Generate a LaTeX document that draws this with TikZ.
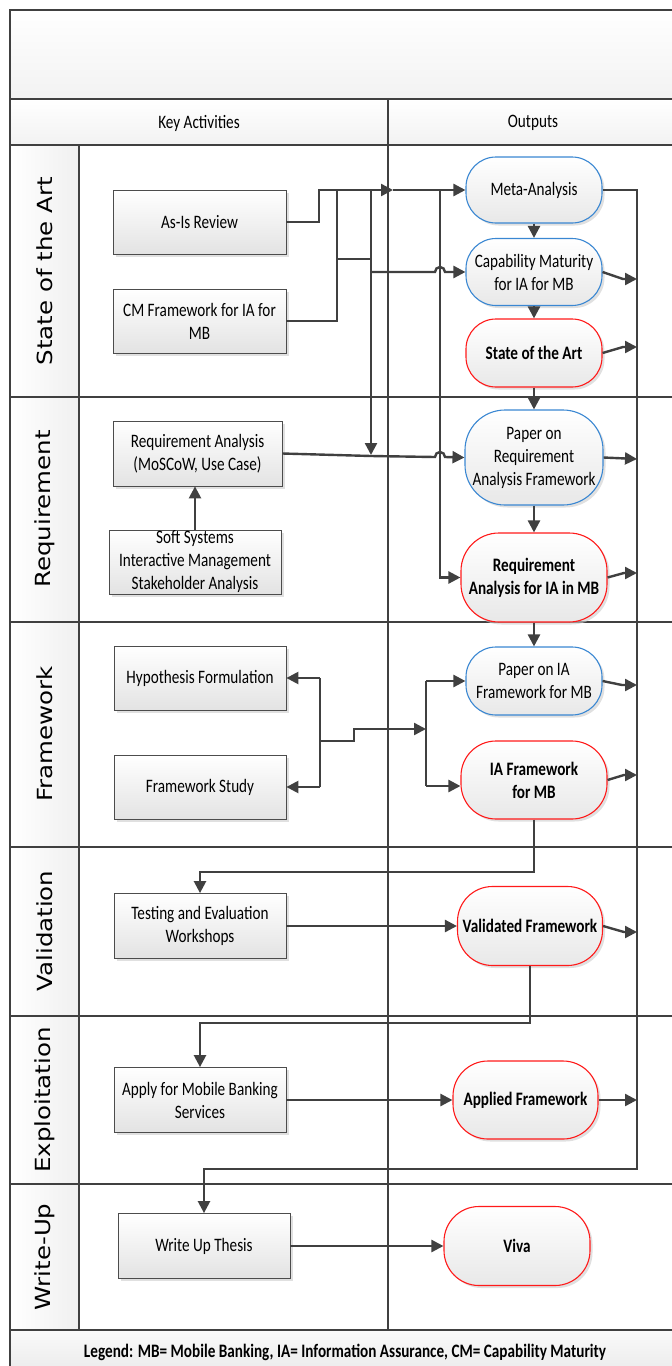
\documentclass[tikz,border=0pt]{standalone}
\usepackage{fontspec}
\setmainfont{Carlito}[FakeStretch=0.8]
\newfontfamily\lanefont{DejaVu Sans}
\usetikzlibrary{arrows.meta,shadows,calc}
\definecolor{ln}{HTML}{404040}
\definecolor{bblue}{HTML}{3A87D2}
\definecolor{rred}{HTML}{FF1A1A}
\begin{document}
\begin{tikzpicture}[x=1pt,y=-1pt,
  conn/.style={draw=ln,line width=2.4pt},
  arr/.style={conn,-{Triangle[length=12pt,width=12pt]}},
  frame/.style={draw=ln,line width=2pt},
  divline/.style={draw=ln,line width=1.2pt},
  txt/.style={font=\fontsize{19}{23}\selectfont},
  actbox/.style={txt,draw=gray!60!black,line width=0.8pt,top color=white,bottom color=gray!22,
    drop shadow={shadow xshift=2.5pt,shadow yshift=-2.5pt,fill=gray!40,opacity=0.6},
    align=center,inner sep=0pt,minimum width=172pt,minimum height=64pt},
  outbase/.style={txt,line width=1.1pt,top color=white,bottom color=gray!18,
    drop shadow={shadow xshift=2.5pt,shadow yshift=-2.5pt,fill=gray!40,opacity=0.6},
    align=center,inner sep=0pt,rounded corners=#1},
  outblue/.style={outbase=#1,draw=bblue},
  outred/.style={outbase=#1,draw=rred,font=\fontsize{19}{23}\selectfont\bfseries},
  lanelab/.style={font=\lanefont\fontsize{24.5}{28}\selectfont,rotate=90,inner sep=0pt},
  hdr/.style={txt,inner sep=0pt}
]
\useasboundingbox (0,0) rectangle (672,1366);
% backgrounds
\fill[top color=white,bottom color=gray!10] (10,10) rectangle (672,99);
\fill[top color=white,bottom color=gray!10] (10,99) rectangle (672,145);
\foreach \a/\b in {145/397,397/622,622/847,847/1016,1016/1184,1184/1330}
  \fill[left color=white,right color=gray!12] (10,\a) rectangle (79,\b);
\fill[top color=gray!4,bottom color=gray!14] (10,1330) rectangle (672,1366);
% frame
\draw[frame] (672,10) -- (10,10) -- (10,1366);
\foreach \y in {99,145,397,622,847,1016,1184,1330}
  \draw[frame] (10,\y) -- (672,\y);
\draw[divline] (79,145) -- (79,1330);
\draw[divline] (388,99) -- (388,1330);
% headers
\node[hdr] (hka) at (199,123) {Key Activities};
\node[hdr] (hout) at (533,123) {Outputs};
\node[txt,font=\fontsize{19}{22}\selectfont\bfseries,inner sep=0pt] (leg) at (345,1352)
  {Legend: MB= Mobile Banking, IA= Information Assurance, CM= Capability Maturity};
% lane labels
\node[lanelab] (l1) at (44.5,271) {\scalebox{1}[0.85]{State of the Art}};
\node[lanelab] (l2) at (44.5,509) {\scalebox{1}[0.85]{Requirement}};
\node[lanelab] (l3) at (44.5,734) {\scalebox{1}[0.85]{Framework}};
\node[lanelab] (l4) at (44.5,931) {\scalebox{1}[0.85]{Validation}};
\node[lanelab] (l5) at (44.5,1100) {\scalebox{1}[0.85]{Exploitation}};
\node[lanelab] (l6) at (44.5,1257) {\scalebox{1}[0.85]{Write-Up}};
% activity boxes
\node[actbox,minimum width=173pt] (asis) at (199.5,222) {As-Is Review};
\node[actbox,minimum width=173pt] (cmf) at (199.5,321) {CM Framework for IA for\\MB};
\node[actbox,minimum width=169pt,minimum height=65pt] (reqa) at (197.5,453.5) {Requirement Analysis\\(MoSCoW, Use Case)};
\node[actbox] (soft) at (195,562) {Soft Systems\\Interactive Management\\Stakeholder Analysis};
\node[actbox] (hyp) at (200,678) {Hypothesis Formulation};
\node[actbox] (fws) at (200,787) {Framework Study};
\node[actbox,minimum height=65pt] (test) at (200,926) {Testing and Evaluation\\Workshops};
\node[actbox,minimum height=65pt] (apply) at (200,1100) {Apply for Mobile Banking\\Services};
\node[actbox,minimum height=65pt] (writeup) at (204,1246) {Write Up Thesis};
% output nodes
\node[outblue=30pt,minimum width=136pt,minimum height=66pt] (meta) at (534,190) {Meta-Analysis};
\node[outblue=30pt,minimum width=136pt,minimum height=67pt] (capm) at (534,272) {Capability Maturity\\for IA for MB};
\node[outred=30pt,minimum width=136pt,minimum height=68pt] (soa) at (534,353) {State of the Art};
\node[outblue=40pt,minimum width=138pt,minimum height=95pt] (preq) at (534,457.5) {Paper on\\Requirement\\Analysis Framework};
\node[outred=38pt,minimum width=146pt,minimum height=89pt] (reqia) at (534,577.5) {Requirement\\Analysis for IA in MB};
\node[outblue=30pt,minimum width=136pt,minimum height=68pt] (pia) at (534,681) {Paper on IA\\Framework for MB};
\node[outred=35pt,minimum width=146pt,minimum height=78pt] (iaf) at (534,780) {IA Framework\\for MB};
\node[outred=35pt,minimum width=145pt,minimum height=79pt] (valf) at (530,926) {Validated Framework};
\node[outred=35pt,minimum width=145pt,minimum height=78pt] (appf) at (525.5,1100) {Applied Framework};
\node[outred=35pt,minimum width=146pt,minimum height=79pt] (viva) at (517,1246) {Viva};
% coordinates
\coordinate (j1) at (319,190);
\coordinate (dv) at (393,190);
\coordinate (j2) at (337,190);
\coordinate (j3) at (337,259);
\coordinate (j4) at (371,259);
\coordinate (j5) at (371,190);
\coordinate (j6) at (371,455);
\coordinate (j7) at (371,272);
\coordinate (h1) at (435,272);
\coordinate (j8) at (440,190);
\coordinate (k1) at (371,456);
\coordinate (h2) at (435,457);
\coordinate (r1) at (637,1169);
\coordinate (r2) at (204,1169);
\coordinate (rk1) at (623,279); \coordinate (re1) at (637,279);
\coordinate (rk2) at (623,347); \coordinate (re2) at (637,347);
\coordinate (re3) at (637,459);
\coordinate (rk4) at (624,573); \coordinate (re4) at (637,573);
\coordinate (rk5) at (622,685); \coordinate (re5) at (637,685);
\coordinate (rk6) at (624,775); \coordinate (re6) at (637,775);
\coordinate (rk7) at (624,932); \coordinate (re7) at (637,932);
\coordinate (re8) at (637,1100);
\coordinate (f1) at (320,678);
\coordinate (f2) at (320,787);
\coordinate (f3) at (320,741);
\coordinate (f5) at (354,729);
\coordinate (f6) at (426,729);
\coordinate (f7) at (426,681);
\coordinate (f8) at (426,786);
\coordinate (v2) at (200,872);
\coordinate (v3) at (200,1023);
% state of the art connectors
\draw[arr] (asis.east) -| (j1) -- (dv);
\draw[arr] (dv) -- (meta.west);
\draw[conn] (cmf.east) -| (j2);
\draw[conn] (j3) -- (j4);
\draw[arr] (j5) -- (j6);
\draw[arr] (j7) -- (h1) arc (180:360:5) -- (capm.west);
\draw[arr] (j8) |- (reqia.west);
\draw[arr] (meta.east) -| (r1) -- (r2) -- (writeup.north);
\draw[arr] (meta.south) -- (capm.north);
\draw[arr] (capm.south) -- (soa.north);
\draw[arr] (soa.south) -- (preq.north);
\draw[arr] (preq.south) -- (reqia.north);
\draw[arr] (reqia.south) -- (pia.north);
\draw[arr] (capm.east) -- (rk1) -- (re1);
\draw[arr] (soa.east) -- (rk2) -- (re2);
% requirement
\draw[arr] (soft.north) -- (soft.north |- reqa.south);
\draw[arr] (reqa.east) -- (k1) -- (h2) arc (180:360:5) -- (preq.west);
\draw[arr] (preq.east) -- (re3);
\draw[arr] (reqia.east) -- (rk4) -- (re4);
% framework
\draw[conn] (f1) -- (f2);
\draw[arr] (f1) -- (hyp.east);
\draw[arr] (f2) -- (fws.east);
\draw[arr] (f3) -| (f5) -- (f6);
\draw[conn] (f7) -- (f8);
\draw[arr] (f7) -- (pia.west);
\draw[arr] (f8) -- (iaf.west |- f8);
\draw[arr] (pia.east) -- (rk5) -- (re5);
\draw[arr] (iaf.east) -- (rk6) -- (re6);
% validation / exploitation / write-up
\draw[arr] (iaf.south) |- (v2) -- (test.north);
\draw[arr] (test.east) -- (valf.west);
\draw[arr] (valf.east) -- (rk7) -- (re7);
\draw[arr] (valf.south) |- (v3) -- (apply.north);
\draw[arr] (apply.east) -- (appf.west);
\draw[arr] (appf.east) -- (re8);
\draw[arr] (writeup.east) -- (viva.west);
\end{tikzpicture}
\end{document}
